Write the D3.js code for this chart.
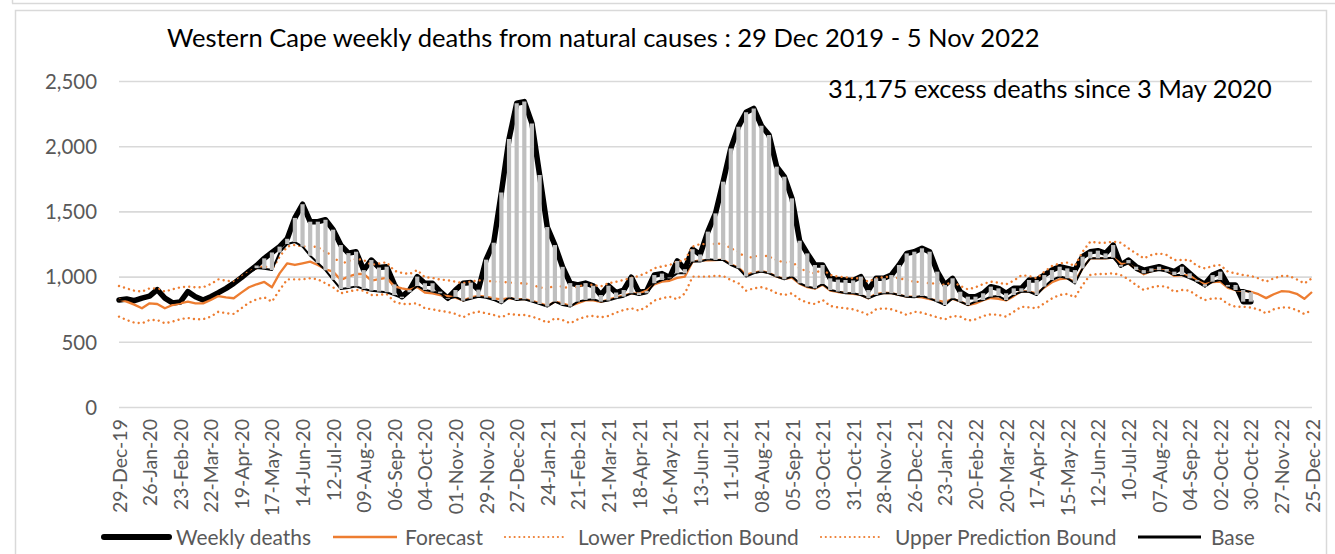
<!DOCTYPE html>
<html><head><meta charset="utf-8">
<script src="https://cdn.jsdelivr.net/npm/d3@7"></script>
<style>
body{margin:0;background:#fff}
svg{display:block}
text{font-family:Lato,"Open Sans",sans-serif}
</style>
</head><body>
<svg id="c" width="1335" height="554"></svg>
<script>
// ---------- DATA ----------
const startDate = new Date(2019, 11, 29);
const nWeeks = 157;
const weekFmt = d3.timeFormat("%d-%b-%y");
const weeks = d3.range(nWeeks).map(i => weekFmt(d3.timeDay.offset(startDate, 7 * i)));

const tickLabels = ["29-Dec-19","26-Jan-20","23-Feb-20","22-Mar-20","19-Apr-20","17-May-20","14-Jun-20","12-Jul-20","09-Aug-20","06-Sep-20","04-Oct-20","01-Nov-20","29-Nov-20","27-Dec-20","24-Jan-21","21-Feb-21","21-Mar-21","18-Apr-21","16-May-21","13-Jun-21","11-Jul-21","08-Aug-21","05-Sep-21","03-Oct-21","31-Oct-21","28-Nov-21","26-Dec-21","23-Jan-22","20-Feb-22","20-Mar-22","17-Apr-22","15-May-22","12-Jun-22","10-Jul-22","07-Aug-22","04-Sep-22","02-Oct-22","30-Oct-22","27-Nov-22","25-Dec-22"];

const yTicks = [0, 500, 1000, 1500, 2000, 2500];

const weeklyDeaths = [820,828,815,835,850,900,835,798,805,885,846,820,846,877,910,948,992,1040,1085,1140,
1185,1230,1290,1450,1555,1421,1421,1436,1360,1242,1180,1191,1050,1127,1070,1076,940,846,897,1000,
949,949,885,834,897,949,954,900,1130,1260,1645,2055,2329,2342,2175,1779,1380,1242,1075,950,
936,950,930,859,930,878,897,995,878,890,1012,1023,993,1120,1057,1210,1170,1345,1485,1728,
1983,2150,2261,2290,2157,2086,1843,1766,1600,1275,1178,1089,1089,987,977,974,971,1000,897,987,
987,1012,1089,1178,1191,1217,1191,1038,936,987,884,846,846,872,923,910,872,910,910,974,
974,1012,1050,1076,1063,1050,1153,1191,1199,1178,1242,1089,1127,1076,1050,1063,1076,1058,1038,1076,
1025,974,941,1012,1038,936,936,808,808];

const forecast = [826,808,785,757,795,790,757,782,795,808,795,795,821,851,841,834,877,918,941,959,
918,1025,1102,1089,1102,1115,1089,1056,1038,974,1000,1020,1020,970,980,990,925,910,898,920,
878,872,858,851,838,818,840,852,846,833,825,834,828,828,815,796,775,808,795,776,
797,818,817,806,823,840,855,872,870,893,940,962,968,990,1000,1115,1125,1124,1127,1130,
1095,1070,1016,1031,1042,1028,1000,983,993,945,919,907,938,893,882,876,868,859,833,868,
876,874,859,846,846,840,827,818,804,829,810,782,795,820,836,830,817,850,889,884,
872,916,957,980,987,961,1063,1140,1140,1140,1146,1100,1098,1057,1018,1042,1053,1045,1005,1012,
1010,966,941,957,961,914,897,890,884,865,835,865,888,885,868,830,882];

const lowerBound = [693,667,647,642,667,667,642,655,673,683,673,673,693,731,719,714,757,800,826,841,
808,898,979,979,979,987,979,949,918,872,885,898,892,859,859,867,808,790,790,795,
757,749,737,729,714,688,719,731,719,706,688,714,706,706,693,673,647,680,667,642,
672,693,698,688,698,724,744,757,739,770,816,834,846,826,872,1000,1000,1000,1005,1005,
974,949,892,910,918,903,872,859,872,826,800,790,821,775,764,757,749,731,706,749,
757,749,731,706,731,723,706,688,672,698,693,662,672,698,711,706,693,731,769,764,
757,795,833,859,867,841,936,1012,1020,1020,1025,1012,979,936,897,918,928,923,884,897,
892,851,820,833,833,790,769,769,762,749,718,749,764,762,744,713,744];

const upperBound = [928,910,892,885,910,910,885,903,918,923,918,918,943,979,969,961,1000,1038,1064,1082,
1051,1153,1230,1243,1230,1235,1225,1191,1158,1095,1120,1135,1128,1090,1100,1110,1045,1028,1020,1050,
995,990,977,972,961,949,961,972,968,962,961,954,949,949,936,918,903,936,922,910,
923,940,936,925,949,960,975,990,1005,1030,1064,1078,1089,1115,1127,1230,1250,1248,1250,1255,
1217,1191,1140,1153,1166,1153,1127,1107,1115,1064,1038,1025,1056,1012,1000,995,987,987,961,987,
995,1000,987,974,961,958,948,948,936,961,928,902,918,943,961,953,941,969,1010,1005,
987,1038,1081,1102,1107,1081,1191,1268,1260,1260,1268,1260,1217,1178,1140,1166,1178,1166,1127,1127,
1127,1081,1063,1081,1089,1038,1025,1012,1005,987,961,987,1005,1005,979,948,987];

const base = [820,828,815,835,850,900,835,798,805,885,846,820,846,877,910,948,992,1030,1065,1060,
1050,1185,1250,1265,1230,1160,1105,1048,975,905,912,925,905,892,885,880,858,835,880,928,
897,885,872,828,845,815,830,845,838,821,795,840,821,826,808,790,770,808,782,770,
808,821,826,808,816,834,846,872,859,872,949,974,987,1025,1025,1115,1115,1133,1127,1127,
1089,1064,1000,1025,1038,1025,1000,979,1000,949,923,910,943,897,885,872,872,859,834,859,
872,872,859,846,841,851,833,808,782,833,808,782,808,820,846,851,820,859,884,884,
859,923,974,1000,987,948,1063,1140,1140,1140,1145,1076,1102,1050,1025,1038,1050,1038,1012,1012,
987,961,923,961,974,923,897,897,880];

const excessStart = 18; // week of 3 May 2020

const titleText = "Western Cape weekly deaths from natural causes : 29 Dec 2019 - 5 Nov 2022";
const noteText = "31,175 excess deaths since 3 May 2020";

// ---------- DRAW ----------
const svg = d3.select("#c");
const ORANGE = "#ED7D31", GRID = "#d9d9d9", LABEL = "#595959";
const plotLeft = 119, plotRight = 1312, plotTop = 81, plotBottom = 407;

function fitText(sel, target) {
  const w = sel.node().getComputedTextLength();
  const fs = parseFloat(sel.attr("font-size"));
  sel.attr("font-size", fs * target / w);
  return fs * target / w;
}

// outer frames
svg.append("line").attr("x1", 12).attr("x2", 1335).attr("y1", 3.5).attr("y2", 3.5)
  .attr("stroke", GRID).attr("stroke-width", 1.5);
svg.append("line").attr("x1", 12.5).attr("x2", 12.5).attr("y1", 0).attr("y2", 3.5)
  .attr("stroke", GRID).attr("stroke-width", 1.5);
svg.append("rect").attr("x", 15.5).attr("y", 10.5).attr("width", 1311).attr("height", 560)
  .attr("fill", "none").attr("stroke", GRID).attr("stroke-width", 1.5);

const x = d3.scalePoint().domain(weeks).range([plotLeft, plotRight]);
const y = d3.scaleLinear().domain([0, 2500]).range([plotBottom, plotTop]);

// y axis + gridlines
const yAxis = svg.append("g").attr("transform", `translate(${plotLeft},0)`)
  .call(d3.axisLeft(y).tickValues(yTicks).tickFormat(d3.format(",")).tickSize(-(plotRight - plotLeft)).tickPadding(22));
yAxis.select(".domain").remove();
yAxis.selectAll(".tick line").attr("stroke", GRID).attr("stroke-width", 1.6);
const yt = yAxis.selectAll(".tick text").attr("fill", LABEL).attr("font-size", 20)
  .attr("font-family", "Lato").attr("dy", "0.36em");
{
  const t = yAxis.selectAll(".tick text").filter(d => d === 2500);
  const fs = fitText(t, 52);
  yt.attr("font-size", fs);
}

// x axis
const xAxis = svg.append("g").attr("transform", `translate(0,${plotBottom})`)
  .call(d3.axisBottom(x).tickValues(tickLabels).tickSize(0).tickPadding(0));
xAxis.select(".domain").remove();
const xt = xAxis.selectAll(".tick text")
  .attr("fill", LABEL).attr("font-size", 16).attr("font-family", "Lato")
  .attr("text-anchor", "end").attr("transform", "translate(0,12) rotate(-90)")
  .attr("x", 0).attr("y", 0).attr("dy", "0.36em");
{
  const t = xAxis.selectAll(".tick text").filter(d => d === "29-Dec-19");
  const fs = fitText(t, 94);
  xt.attr("font-size", fs);
}

// series lines
const wk = weeks.slice(0, weeklyDeaths.length);
const lineGen = d3.line().x((d, i) => x(weeks[i])).y(d => y(d));

svg.append("path").datum(weeklyDeaths).attr("d", lineGen)
  .attr("fill", "none").attr("stroke", "#000").attr("stroke-width", 5.5)
  .attr("stroke-linejoin", "round").attr("stroke-linecap", "round");
svg.append("path").datum(forecast).attr("d", lineGen)
  .attr("fill", "none").attr("stroke", ORANGE).attr("stroke-width", 2.3).attr("stroke-linejoin", "round");
[lowerBound, upperBound].forEach(s => {
  svg.append("path").datum(s).attr("d", lineGen)
    .attr("fill", "none").attr("stroke", ORANGE).attr("stroke-width", 2.4)
    .attr("stroke-linecap", "round").attr("stroke-dasharray", "0.01 5.2");
});
svg.append("path").datum(base).attr("d", lineGen)
  .attr("fill", "none").attr("stroke", "#000").attr("stroke-width", 2).attr("stroke-linejoin", "round");

// excess stripes (between base and weekly deaths)
const stripeIdx = d3.range(excessStart, weeklyDeaths.length);
svg.append("g").selectAll("line").data(stripeIdx).join("line")
  .attr("x1", i => x(wk[i])).attr("x2", i => x(wk[i]))
  .attr("y1", i => y(base[i])).attr("y2", i => y(weeklyDeaths[i]))
  .attr("stroke", "#bfbfbf").attr("stroke-width", 4.2);

// title & annotation
const title = svg.append("text").attr("x", 167).attr("y", 47).attr("font-size", 22)
  .attr("fill", "#000").text(titleText);
fitText(title, 873);
const note = svg.append("text").attr("x", 828).attr("y", 98).attr("font-size", 22)
  .attr("fill", "#000").text(noteText);
fitText(note, 444);

// legend
const legend = [
  {label: "Weekly deaths", x1: 104, x2: 169, tx: 176, stroke: "#000", w: 6, dash: null, cap: "round"},
  {label: "Forecast", x1: 333, x2: 397, tx: 405, stroke: ORANGE, w: 2.3, dash: null, cap: "butt"},
  {label: "Lower Prediction Bound", x1: 505, x2: 566, tx: 578, stroke: ORANGE, w: 2.2, dash: "0.01 4.8", cap: "round"},
  {label: "Upper Prediction Bound", x1: 821, x2: 882, tx: 895, stroke: ORANGE, w: 2.2, dash: "0.01 4.8", cap: "round"},
  {label: "Base", x1: 1138, x2: 1201, tx: 1211, stroke: "#000", w: 3, dash: null, cap: "butt"}
];
const lg = svg.append("g");
const ly = 537;
let legendFs = 20;
legend.forEach((d, k) => {
  lg.append("line").attr("x1", d.x1).attr("x2", d.x2).attr("y1", ly).attr("y2", ly)
    .attr("stroke", d.stroke).attr("stroke-width", d.w).attr("stroke-linecap", d.cap)
    .attr("stroke-dasharray", d.dash);
  const t = lg.append("text").attr("x", d.tx).attr("y", ly).attr("dy", "0.36em")
    .attr("font-size", legendFs).attr("fill", LABEL).text(d.label);
  if (k === 0) legendFs = fitText(t, 135);
  else t.attr("font-size", legendFs);
});
</script>
</body></html>
